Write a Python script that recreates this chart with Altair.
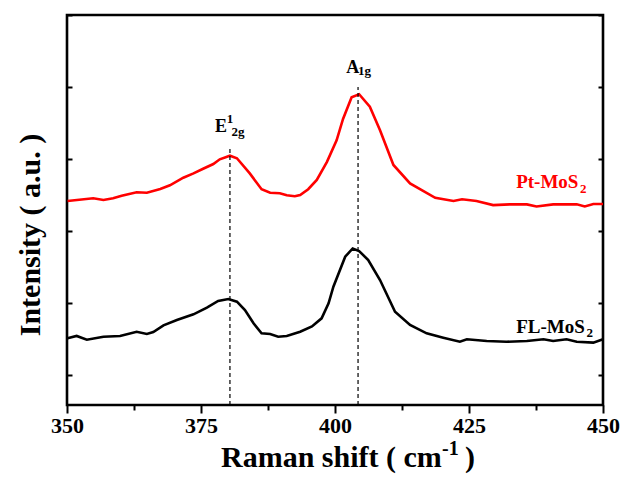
import altair as alt
import pandas as pd

# ---- data ----
red_x = [350.1, 354.9, 356.8, 358.6, 360.2, 363.0, 364.9, 367.4, 369.2, 371.7, 373.6, 375.4, 377.3, 378.5, 380.4,
         381.7, 384.1, 386.3, 387.9, 389.7, 391.0, 392.5, 393.5, 395.0, 396.6, 398.5, 400.3, 401.5, 403.1, 404.5,
         406.5, 408.4, 410.9, 414.0, 418.7, 422.1, 423.7, 426.4, 429.5, 432.6, 435.8, 437.6, 440.7, 445.1, 446.6,
         448.2, 450.0]
red_y = [2.417, 2.454, 2.431, 2.454, 2.49, 2.538, 2.532, 2.583, 2.635, 2.74, 2.80, 2.865, 2.93, 2.996, 3.046,
         3.01, 2.80, 2.58, 2.532, 2.524, 2.496, 2.482, 2.50, 2.58, 2.71, 2.96, 3.26, 3.556, 3.857, 3.90,
         3.726, 3.40, 2.917, 2.66, 2.46, 2.417, 2.44, 2.417, 2.36, 2.37, 2.37, 2.34, 2.37, 2.37, 2.34,
         2.375, 2.375]
black_x = [350.1, 351.8, 353.7, 356.8, 359.9, 363.0, 364.9, 366.1, 368.0, 370.5, 373.6, 376.1, 378.2, 380.1, 381.7,
           383.2, 384.8, 386.3, 387.9, 389.4, 391.0, 393.5, 395.7, 397.5, 398.8, 399.7, 401.9, 403.3, 404.5, 406.2,
           408.4, 411.2, 414.0, 417.1, 420.2, 423.3, 424.6, 428.3, 432.0, 435.8, 438.9, 440.7, 443.2, 445.1, 448.2,
           450.0]
black_y = [0.51, 0.542, 0.49, 0.532, 0.542, 0.60, 0.57, 0.597, 0.69, 0.764, 0.843, 0.935, 1.028, 1.056, 1.018,
           0.903, 0.718, 0.579, 0.569, 0.532, 0.542, 0.60, 0.674, 0.787, 0.996, 1.226, 1.643, 1.757, 1.722, 1.597,
           1.319, 0.879, 0.694, 0.579, 0.518, 0.462, 0.496, 0.472, 0.462, 0.472, 0.496, 0.472, 0.496, 0.462, 0.449,
           0.496]

# peak markers (dashed lines)
peak_x = [380.4, 404.3]
peak_top = [3.17, 4.0]

# labels
main_text = ["E", "A", "Pt-MoS", "FL-MoS"]
main_x = [377.6, 402.1, 433.8, 433.8]
main_y = [3.38, 4.20, 2.593, 0.579]
main_size = [18, 18, 19, 19]
main_color = ["black", "black", "#ff0000", "black"]

small_text = ["1", "2g", "1g", "2", "2"]
small_x = [379.8, 380.7, 404.3, 445.7, 446.9]
small_y = [3.50, 3.32, 4.17, 2.532, 0.532]
small_color = ["black", "black", "black", "#ff0000", "black"]

major_ticks = [350, 375, 400, 425, 450]
minor_ticks = [362.5, 387.5, 412.5, 437.5]
y_ticks = [0, 1, 2, 3, 4, 5]

W, H = 536, 390
FONT = "Liberation Serif"

lines_df = pd.concat([
    pd.DataFrame({"x": red_x, "y": red_y, "series": "Pt-MoS2", "color": "#ff0000"}),
    pd.DataFrame({"x": black_x, "y": black_y, "series": "FL-MoS2", "color": "#000000"}),
])
peaks_df = pd.DataFrame({"x": peak_x, "y0": [-0.4167] * len(peak_x), "y1": peak_top})
main_df = pd.DataFrame({"x": main_x, "y": main_y, "t": main_text, "s": main_size, "c": main_color})
small_df = pd.DataFrame({"x": small_x, "y": small_y, "t": small_text, "c": small_color})


def xs():
    return alt.Scale(domain=[350, 450], nice=False, zero=False)


def ys():
    return alt.Scale(domain=[-0.4167, 5], nice=False, zero=False)


ax_major = alt.Axis(values=major_ticks, orient="bottom", title=None, domain=False, grid=False,
                    tickSize=8, tickWidth=2, tickColor="black",
                    labelFont=FONT, labelFontWeight="bold", labelFontSize=22, labelColor="black",
                    labelPadding=2, labelFlush=False, labelOverlap=False)
ax_minor = alt.Axis(values=minor_ticks, orient="bottom", title=None, domain=False, grid=False,
                    tickSize=5, tickWidth=2, tickColor="black", labels=False)
ay_left = alt.Axis(values=y_ticks, orient="right", offset=-W, title=None, domain=False, grid=False,
                   tickSize=5, tickWidth=2, tickColor="black", labels=False)
ay_right = alt.Axis(values=y_ticks, orient="left", offset=-W, title=None, domain=False, grid=False,
                    tickSize=5, tickWidth=2, tickColor="black", labels=False)

lines = alt.Chart(lines_df).mark_line(strokeWidth=2.6).encode(
    x=alt.X("x:Q", scale=xs(), axis=ax_major),
    y=alt.Y("y:Q", scale=ys(), axis=ay_left),
    color=alt.Color("color:N", scale=None),
    detail="series:N",
)

rules = alt.Chart(peaks_df).mark_rule(strokeDash=[4, 3], strokeWidth=1.2, color="black").encode(
    x=alt.X("x:Q", scale=xs(), axis=ax_minor),
    y=alt.Y("y0:Q", scale=ys(), axis=ay_right),
    y2="y1:Q",
)

main_lbl = alt.Chart(main_df).mark_text(font=FONT, fontWeight="bold", align="left", baseline="alphabetic").encode(
    x=alt.X("x:Q", scale=xs(), axis=None),
    y=alt.Y("y:Q", scale=ys(), axis=None),
    text="t:N",
    size=alt.Size("s:Q", scale=None, legend=None),
    color=alt.Color("c:N", scale=None),
)

small_lbl = alt.Chart(small_df).mark_text(font=FONT, fontWeight="bold", align="left", baseline="alphabetic",
                                          fontSize=13).encode(
    x=alt.X("x:Q", scale=xs(), axis=None),
    y=alt.Y("y:Q", scale=ys(), axis=None),
    text="t:N",
    color=alt.Color("c:N", scale=None),
)

one = pd.DataFrame({"k": [0]})
xt1 = alt.Chart(one).mark_text(font=FONT, fontWeight="bold", fontSize=30, align="left",
                               baseline="alphabetic", color="black").encode(
    x=alt.value(154), y=alt.value(452), text=alt.value("Raman shift ( cm"))
xt2 = alt.Chart(one).mark_text(font=FONT, fontWeight="bold", fontSize=20, align="left",
                               baseline="alphabetic", color="black").encode(
    x=alt.value(375), y=alt.value(440), text=alt.value("-1"))
xt3 = alt.Chart(one).mark_text(font=FONT, fontWeight="bold", fontSize=30, align="left",
                               baseline="alphabetic", color="black").encode(
    x=alt.value(398), y=alt.value(452), text=alt.value(")"))
yt = alt.Chart(one).mark_text(font=FONT, fontWeight="bold", fontSize=30, align="center",
                              baseline="alphabetic", angle=270, color="black").encode(
    x=alt.value(-27), y=alt.value(220), text=alt.value("Intensity ( a.u. )"))

chart = alt.layer(lines, rules, main_lbl, small_lbl, xt1, xt2, xt3, yt).resolve_axis(
    x="independent", y="independent"
).properties(
    width=W, height=H,
    autosize=alt.AutoSizeParams(type="none"),
    padding={"left": 67, "top": 15, "right": 22, "bottom": 72},
    background="white",
).configure_view(stroke="black", strokeWidth=2.6)

chart.save("out.html", embed_options={"renderer": "svg", "actions": False})
